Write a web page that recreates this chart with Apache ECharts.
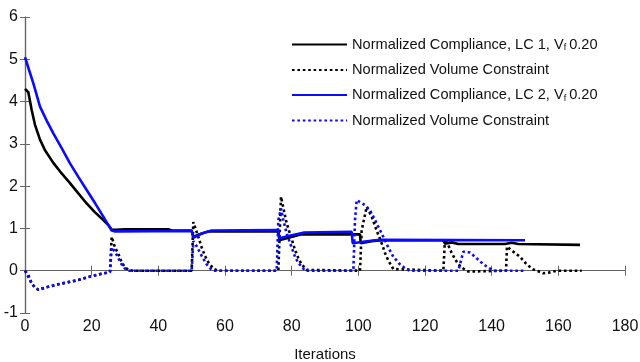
<!DOCTYPE html>
<html>
<head>
<meta charset="utf-8">
<script src="https://cdn.jsdelivr.net/npm/echarts@6/dist/echarts.min.js"></script>
<style>html,body{margin:0;padding:0;background:#fff}#c{width:640px;height:362px}</style>
</head>
<body>
<div id="c"></div>
<script>
// Iterations vs normalized values
var xTicks = [0, 20, 40, 60, 80, 100, 120, 140, 160, 180];
var yTicks = [-1, 0, 1, 2, 3, 4, 5, 6];

var compLC1 = [[0,4.3],[1,4.22],[2,3.8],[3,3.45],[4.5,3.1],[6,2.85],[8.5,2.55],[11,2.3],[13.5,2.07],[16,1.83],[18.5,1.59],[21,1.38],[23.5,1.2],[25,1.08],[26,0.97],[27,0.97],[30,0.98],[43,0.98],[44,0.95],[50,0.95],[50.5,0.8],[52,0.85],[55,0.93],[76,0.93],[76.3,0.72],[79,0.78],[83,0.86],[100.5,0.86],[100.7,0.65],[104,0.7],[107,0.72],[125.5,0.72],[126,0.64],[128,0.67],[130,0.63],[144,0.63],[146,0.66],[148,0.63],[166.5,0.61]];

var volLC1 = [[0,0],[1,-0.1],[2,-0.3],[3,-0.4],[4,-0.45],[5,-0.42],[7,-0.38],[10,-0.32],[13,-0.27],[16,-0.22],[19,-0.15],[22,-0.09],[25.5,-0.03],[26,0.8],[27,0.55],[28,0.4],[29,0.2],[30,0.08],[31,0.02],[32.5,0],[50,0],[50.5,1.15],[52,0.8],[53,0.55],[54,0.35],[55,0.2],[56.5,0.05],[58,0],[76,0],[76.8,1.75],[78,1.3],[78.5,1.12],[80,0.75],[81,0.49],[82,0.3],[83,0.15],[84.5,0.02],[85,0],[100.5,0],[101,0.95],[102.5,1.51],[104,1.28],[105.5,0.95],[107,0.65],[108,0.42],[109,0.24],[110.5,0.04],[111,0],[125.5,0],[126,0.75],[127,0.6],[128,0.42],[129,0.28],[130,0.15],[131.5,0.05],[133,-0.02],[144.3,0],[144.6,0.57],[146,0.48],[148.5,0.33],[150.5,0.15],[152.5,0.03],[155.5,-0.06],[157.5,-0.04],[159.5,0],[167,0]];

var compLC2 = [[0,5.05],[1,4.8],[2.5,4.43],[4.5,3.88],[6.5,3.55],[8.5,3.25],[11,2.9],[13.5,2.54],[16,2.22],[18.5,1.91],[21,1.6],[23.5,1.28],[25,1.08],[26,0.95],[27,0.93],[50,0.94],[50.5,0.78],[53,0.88],[56,0.95],[76,0.96],[76.3,0.77],[79,0.82],[83.5,0.9],[98,0.92],[98.3,0.65],[102,0.69],[106.5,0.73],[150,0.72]];

var volLC2 = [[0,0],[1,-0.15],[2,-0.3],[3,-0.4],[4,-0.45],[5,-0.43],[7,-0.38],[10,-0.32],[13,-0.27],[16,-0.22],[19,-0.15],[22,-0.09],[25.5,-0.03],[26,0.55],[27,0.45],[28,0.3],[29,0.15],[30,0.05],[31,0],[50,0],[50.5,0.7],[51.5,0.58],[53,0.35],[54.5,0.15],[56,0.02],[57,0],[75.5,0],[76,1.2],[76.8,1.47],[77.5,1.2],[78.5,0.88],[80,0.55],[81,0.33],[82,0.18],[83,0.1],[84,0],[98.5,0],[99,1.2],[99.5,1.67],[101,1.6],[102,1.55],[103.5,1.43],[105,1.2],[107.5,0.8],[109,0.55],[110.5,0.33],[112.5,0.15],[114.5,0.03],[115.5,0],[130,0],[131.5,0.45],[133.5,0.43],[135,0.33],[136.5,0.22],[138.5,0.1],[140.5,0],[149.5,0]];

var legendNames = ['c1', 'v1', 'c2', 'v2'];
var legendTexts = {
  c1: '{t|Normalized Compliance, LC 1, V}{s|f}{t|0.20}',
  v1: '{t|Normalized Volume Constraint}',
  c2: '{t|Normalized Compliance, LC 2, V}{s|f}{t|0.20}',
  v2: '{t|Normalized Volume Constraint}'
};

var FONT = '"Liberation Sans", Arial, sans-serif';
var AX = '#666';

var chart = echarts.init(document.getElementById('c'), null, {renderer: 'canvas'});
function mkSeries(name, data, color, dotted) {
  return {
    name: name, type: 'line', data: data, symbol: 'none', showSymbol: false, animation: false,
    lineStyle: {color: color, width: 2.6, type: dotted ? [2.6, 2.8] : 'solid'},
    itemStyle: {color: color}
  };
}
chart.setOption({
  animation: false,
  backgroundColor: '#fff',
  grid: {left: 25, right: 15, top: 17, bottom: 49, containLabel: false, outerBoundsMode: 'none'},
  legend: {
    data: legendNames, orient: 'vertical', left: 291, top: 37, padding: 0,
    itemWidth: 55, itemHeight: 12, itemGap: 10,
    itemStyle: {opacity: 0},
    formatter: function (n) { return legendTexts[n]; },
    textStyle: {
      rich: {
        t: {fontFamily: FONT, fontSize: 14.6, color: '#111', lineHeight: 16},
        s: {fontFamily: FONT, fontSize: 9, color: '#111', lineHeight: 8, verticalAlign: 'bottom', padding: [0, 3, 0, 0]}
      }
    }
  },
  xAxis: [{
    type: 'value', min: 0, max: 180, interval: 20,
    name: 'Iterations', nameLocation: 'middle', nameGap: 34,
    nameTextStyle: {fontFamily: FONT, fontSize: 15, color: '#111'},
    axisLine: {show: true, lineStyle: {color: AX, width: 1.2}},
    axisTick: {show: true, inside: true, length: 5, lineStyle: {color: AX}},
    axisLabel: {fontFamily: FONT, fontSize: 16, color: '#111', margin: 6},
    splitLine: {show: false}
  }, {
    type: 'value', min: 0, max: 180, interval: 20, position: 'top',
    axisLine: {show: true, lineStyle: {color: AX, width: 1.2}},
    axisTick: {show: true, inside: true, length: 5, lineStyle: {color: AX}},
    axisLabel: {show: false}, splitLine: {show: false}
  }],
  yAxis: [{
    type: 'value', min: -1, max: 6, interval: 1,
    axisLine: {show: true, lineStyle: {color: AX, width: 1.2}},
    axisTick: {show: true, inside: true, length: 5, lineStyle: {color: AX}},
    axisLabel: {fontFamily: FONT, fontSize: 16, color: '#111', margin: 7},
    splitLine: {show: false}
  }, {
    type: 'value', min: -1, max: 6, interval: 1, position: 'right',
    axisLine: {show: true, lineStyle: {color: AX, width: 1.2}},
    axisTick: {show: true, inside: true, length: 5, lineStyle: {color: AX}},
    axisLabel: {show: false}, splitLine: {show: false}
  }],
  series: [
    mkSeries('c1', compLC1, '#000000', false),
    mkSeries('v1', volLC1, '#000000', true),
    mkSeries('c2', compLC2, '#0a0aff', false),
    mkSeries('v2', volLC2, '#0a0aff', true)
  ]
});
</script>
</body>
</html>
